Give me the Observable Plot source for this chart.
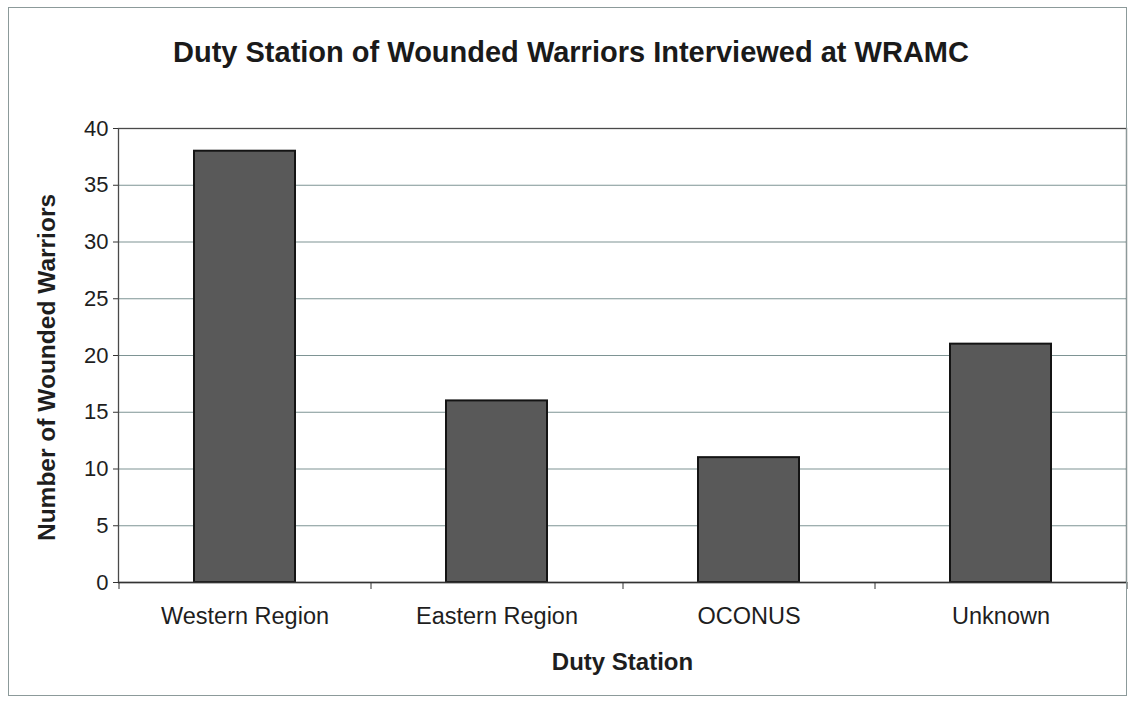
<!DOCTYPE html>
<html>
<head>
<meta charset="utf-8">
<script src="https://cdn.jsdelivr.net/npm/d3@7"></script>
<script src="https://cdn.jsdelivr.net/npm/@observablehq/plot@0.6"></script>
<style>
  html, body { margin: 0; padding: 0; background: #fff; }
  #wrap { position: relative; width: 1132px; height: 701px; overflow: hidden; font-family: "Liberation Sans", Arial, sans-serif; }
  #border { position: absolute; left: 8px; top: 7px; width: 1119px; height: 689px; border: 1px solid #8c9a9a; box-sizing: border-box; pointer-events: none; }
  #title { height: 90px; box-sizing: border-box; padding-top: 36px; font-size: 29px; line-height: 33px; font-weight: bold; text-align: center; color: #1a1a1a; padding-left: 10px; }
  #chart svg { display: block; overflow: visible; }
</style>
</head>
<body>
<div id="wrap">
  <div id="border"></div>
  <div id="title">Duty Station of Wounded Warriors Interviewed at WRAMC</div>
  <div id="chart"></div>
</div>
<script>
const categories = ["Western Region", "Eastern Region", "OCONUS", "Unknown"];
const counts = [38, 16, 11, 21];
const yTicks = [0, 5, 10, 15, 20, 25, 30, 35, 40];
const titleText = "Duty Station of Wounded Warriors Interviewed at WRAMC";
const xLabel = "Duty Station";
const yLabel = "Number of Wounded Warriors";

const data = categories.map((c, i) => ({category: c, value: counts[i]}));

const W = 1132, H = 611, ML = 118, MR = 6, MT = 38, MB = 119;
const step = (W - ML - MR) / categories.length;

const chart = Plot.plot({
  width: W,
  height: H,
  marginLeft: ML,
  marginRight: MR,
  marginTop: MT,
  marginBottom: MB,
  style: {fontFamily: "'Liberation Sans', Arial, sans-serif", color: "#1e1e1e", background: "transparent"},
  x: {domain: categories, paddingInner: 0.6, paddingOuter: 0.3, label: null},
  y: {domain: [0, 40], label: null},
  marks: [
    Plot.gridY(yTicks, {stroke: "#7e9494", strokeOpacity: 1, strokeWidth: 1.2}),
    Plot.barY(data, {x: "category", y: "value", fill: "#595959", stroke: "#141414", strokeWidth: 2}),
    Plot.frame({stroke: "#4a4a4a", strokeWidth: 1.3}),
    Plot.ruleY([0], {stroke: "#333", strokeWidth: 1.5}),
    Plot.axisY(yTicks, {tickSize: 5, tickPadding: 5, fontSize: 22, stroke: "#333",
      label: yLabel, labelAnchor: "center", labelOffset: 81, labelArrow: "none"}),
    Plot.axisX({tickSize: 0, tickPadding: 25, fontSize: 23.5,
      label: xLabel, labelAnchor: "center", labelOffset: 87, labelArrow: "none"}),
    Plot.axisX({tickSize: 7, dx: step / 2, text: null, label: null, stroke: "#333"}),
    Plot.axisX([categories[0]], {tickSize: 7, dx: -step / 2, text: null, label: null, stroke: "#333"})
  ]
});

// style axis labels bold
chart.querySelectorAll("[aria-label='y-axis label'] text, [aria-label='x-axis label'] text").forEach(t => {
  t.setAttribute("font-weight", "bold");
  t.setAttribute("font-size", "24");
});
// nudge the y-axis label down slightly, as in the original
chart.querySelectorAll("[aria-label='y-axis label']").forEach(g => {
  const prev = g.getAttribute("transform") || "";
  g.setAttribute("transform", prev + " translate(0,12)");
  g.querySelectorAll("text").forEach(t => t.setAttribute("font-size", "24.5"));
});
document.getElementById("chart").appendChild(chart);
</script>
</body>
</html>
